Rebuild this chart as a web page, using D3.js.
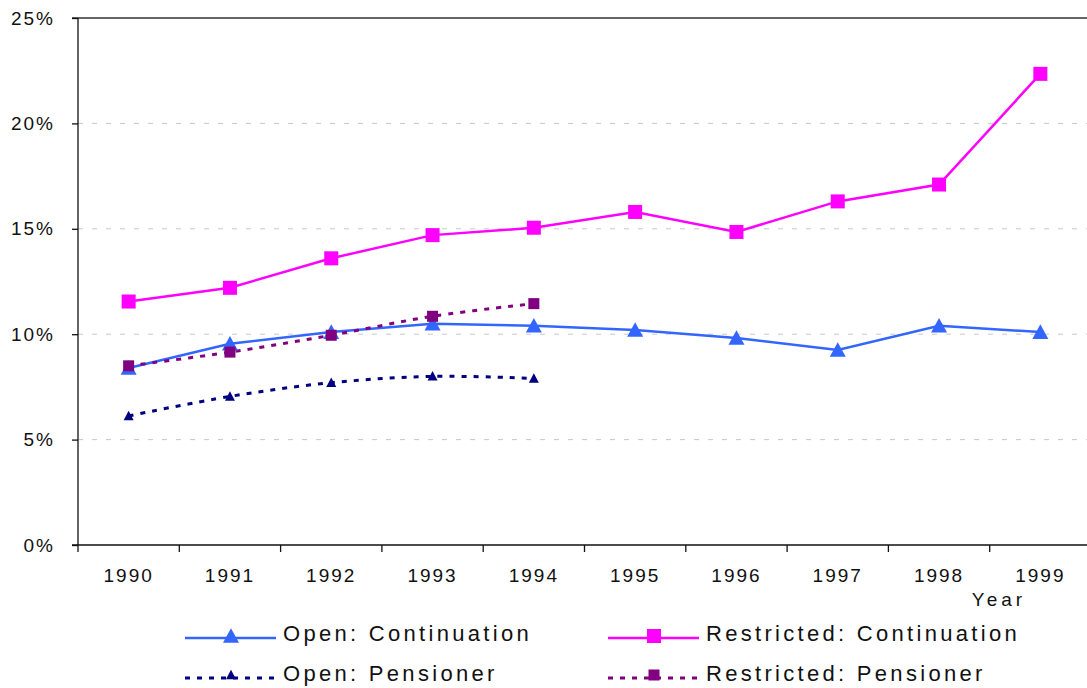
<!DOCTYPE html>
<html>
<head>
<meta charset="utf-8">
<title>continuation rates</title>
<script src="https://cdnjs.cloudflare.com/ajax/libs/d3/7.8.5/d3.min.js"></script>
<style>
  body { margin: 0; background: #fff; }
  text { font-family: "Liberation Sans", Arial, sans-serif; fill: #111; }
</style>
</head>
<body>
<svg width="1087" height="688"></svg>
<script>
// values (percent)
var years = ["1990","1991","1992","1993","1994","1995","1996","1997","1998","1999"];
var openCont = [8.4, 9.55, 10.1, 10.5, 10.4, 10.2, 9.82, 9.25, 10.4, 10.1];
var restrCont = [11.55, 12.2, 13.6, 14.7, 15.05, 15.8, 14.85, 16.3, 17.1, 22.35];
var openPens = [6.12, 7.05, 7.7, 8.0, 7.9];
var restrPens = [8.5, 9.15, 9.95, 10.85, 11.45];
var yTicks = [0, 5, 10, 15, 20, 25];

var series = [
  {name: "Open: Continuation", vals: openCont, color: "#3366ff", shape: "tri", size: 16, dash: null, smooth: false},
  {name: "Restricted: Continuation", vals: restrCont, color: "#ff00ff", shape: "sq", size: 14, dash: null, smooth: false},
  {name: "Open: Pensioner", vals: openPens, color: "#000080", shape: "tri", size: 10, dash: "5,7", smooth: true},
  {name: "Restricted: Pensioner", vals: restrPens, color: "#800080", shape: "sq", size: 11, dash: "5,7", smooth: true}
];

var svg = d3.select("svg");
var mLeft = 78, mTop = 18, mBottom = 545, mRight = 1091;

var x = d3.scaleBand().domain(years).range([mLeft, mRight]);
var y = d3.scaleLinear().domain([0, 25]).range([mBottom, mTop]);

// gridlines
svg.selectAll(".grid").data(yTicks.filter(function(d) { return d > 0 && d < 25; }))
  .enter().append("line")
  .attr("x1", mLeft).attr("x2", 1087)
  .attr("y1", function(d) { return y(d); }).attr("y2", function(d) { return y(d); })
  .style("stroke", "#c8c8c8").style("stroke-dasharray", "5,9").style("stroke-width", 1);

svg.append("line").attr("x1", mLeft - 6).attr("x2", 1087)
  .attr("y1", y(25)).attr("y2", y(25)).style("stroke", "#333").style("stroke-width", 1.3);

// y axis
var yAxis = d3.axisLeft(y).tickValues(yTicks).tickSize(6).tickPadding(17)
  .tickFormat(function(d) { return d + "%"; });
var gy = svg.append("g").attr("transform", "translate(" + mLeft + ",0)").call(yAxis);
gy.select(".domain").attr("d", "M0," + mTop + "V" + mBottom).style("stroke", "#111").style("stroke-width", 1.3);
gy.selectAll(".tick line").style("stroke", "#111").style("stroke-width", 1.3);
gy.selectAll("text").style("font-size", "19px").style("letter-spacing", "2px")
  .style("font-family", "'Liberation Sans', Arial, sans-serif").attr("fill", "#111");

// x axis
var xAxis = d3.axisBottom(x).tickSize(0).tickPadding(24);
var gx = svg.append("g").attr("transform", "translate(0," + mBottom + ")").call(xAxis);
gx.select(".domain").attr("d", "M" + (mLeft - 6) + ",0H1087").style("stroke", "#111").style("stroke-width", 1.3);
gx.selectAll("text").style("font-size", "19px").style("letter-spacing", "2px")
  .style("font-family", "'Liberation Sans', Arial, sans-serif").attr("fill", "#111");
svg.selectAll(".xtick").data(years).enter().append("line")
  .attr("x1", function(d) { return x(d); }).attr("x2", function(d) { return x(d); })
  .attr("y1", mBottom).attr("y2", mBottom + 7).style("stroke", "#111").style("stroke-width", 1.3);

svg.append("text").attr("x", 999).attr("y", 606).attr("text-anchor", "middle")
  .style("font-size", "19px").style("letter-spacing", "4px").text("Year");

function marker(g, s, cx, cy, size) {
  if (s.shape === "tri") {
    var h = size * 0.85;
    g.append("path")
      .attr("d", "M" + cx + "," + (cy - h / 2 - 1) + "L" + (cx + size / 2) + "," + (cy + h / 2) + "L" + (cx - size / 2) + "," + (cy + h / 2) + "Z")
      .attr("fill", s.color);
  } else {
    g.append("rect").attr("x", cx - size / 2).attr("y", cy - size / 2)
      .attr("width", size).attr("height", size).attr("fill", s.color);
  }
}

// lines
series.forEach(function(s) {
  var line = d3.line()
    .x(function(d, i) { return x(years[i]) + x.bandwidth() / 2; })
    .y(function(d) { return y(d); })
    .curve(s.smooth ? d3.curveCatmullRom.alpha(0) : d3.curveLinear);
  svg.append("path").datum(s.vals).attr("d", line)
    .attr("fill", "none").attr("stroke", s.color)
    .attr("stroke-width", s.dash ? 3 : 2.5)
    .attr("stroke-dasharray", s.dash);
});

// markers, drawn after the lines
series.forEach(function(s) {
  var g = svg.append("g");
  s.vals.forEach(function(v, i) {
    marker(g, s, x(years[i]) + x.bandwidth() / 2, y(v), s.size);
  });
});

// legend
var legPos = [[185, 634], [608, 634], [185, 674], [608, 674]];
series.forEach(function(s, i) {
  var lx = legPos[i][0], ly = legPos[i][1];
  var g = svg.append("g");
  g.append("line").attr("x1", lx).attr("x2", lx + 91).attr("y1", ly + 4).attr("y2", ly + 4)
    .attr("stroke", s.color).attr("stroke-width", s.dash ? 3 : 2.5).attr("stroke-dasharray", s.dash);
  marker(g, s, lx + 46, ly + (s.dash ? 1 : 2), s.size);
  g.append("text").attr("x", lx + 98).attr("y", ly + 7)
    .style("font-size", "22px").style("letter-spacing", "3.3px").text(s.name);
});
</script>
</body>
</html>
